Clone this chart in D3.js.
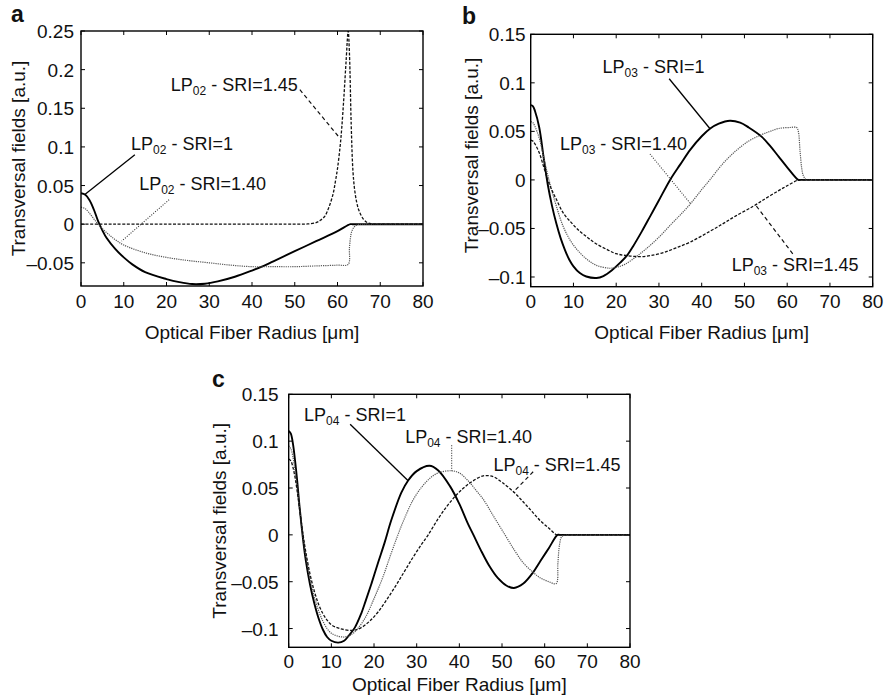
<!DOCTYPE html>
<html><head><meta charset="utf-8">
<script src="https://cdn.jsdelivr.net/npm/d3@7"></script>
<style>
body{margin:0;background:#fff}
text{font-family:"Liberation Sans",Arial,Helvetica,sans-serif;fill:#111}
</style>
</head><body>
<svg id="chart" width="888" height="698"></svg>
<script>
// ---------------- DATA ----------------
const xTicks = [0,10,20,30,40,50,60,70,80];
const xDomain = [0,80];
const yTicksA = [-0.05,0,0.05,0.1,0.15,0.2,0.25];
const yTicksB = [-0.1,-0.05,0,0.05,0.1,0.15];
const yTicksC = [-0.1,-0.05,0,0.05,0.1,0.15];
const yDomainA = [-0.08,0.25];
const yDomainB = [-0.11,0.15];
const yDomainC = [-0.12,0.15];
const panelLetters = ["a","b","c"];
const xTitle = "Optical Fiber Radius [\u03bcm]";
const yTitle = "Transversal fields [a.u.]";

// Panel a : LP02
const lp02_sri1 = [[0,0.040],[1,0.038],[2,0.031],[3,0.019],[4,0.004],[5,-0.008],[6,-0.018],[8,-0.032],[10,-0.043],[12,-0.052],[15,-0.062],[20,-0.071],[23,-0.075],[26,-0.0775],[29,-0.077],[32,-0.074],[36,-0.068],[40,-0.060],[42.3,-0.055],[45,-0.048],[50,-0.035],[55,-0.022],[60,-0.009],[63,0],[63.5,0],[64,0],[66,0],[70,0],[75,0],[80,0]];
const lp02_sri140 = [[0,0.022],[1,0.020],[2,0.014],[3,0.007],[4,0.000],[6,-0.011],[8,-0.020],[10,-0.027],[15,-0.037],[20,-0.043],[25,-0.047],[30,-0.050],[35,-0.053],[40,-0.055],[45,-0.055],[50,-0.055],[55,-0.054],[60,-0.053],[62.5,-0.052],[62.8,-0.030],[63.3,-0.010],[64,-0.003],[65,0],[66,0],[68,0],[72,0],[76,0],[80,0]];
const lp02_sri145 = [[0,0],[5,0],[10,0],[20,0],[30,0],[40,0],[48,0],[51,0],[53,0.0003],[55,0.002],[56,0.005],[57,0.010],[58,0.022],[59,0.040],[59.5,0.055],[60,0.072],[60.6,0.10],[61,0.125],[61.5,0.165],[62,0.21],[62.5,0.25],[62.8,0.22],[63.2,0.13],[63.6,0.07],[64,0.045],[64.5,0.028],[65,0.018],[66,0.007],[67,0.002],[68,0.0003],[69,0],[70,0],[72,0],[76,0],[80,0]];

// Panel b : LP03
const lp03_sri1 = [[0,0.077],[0.5,0.076],[1,0.071],[2,0.054],[3,0.024],[4,-0.005],[5,-0.027],[6,-0.045],[7,-0.060],[8,-0.072],[9,-0.082],[10,-0.089],[11.5,-0.096],[13,-0.0995],[15.4,-0.101],[17,-0.099],[19,-0.093],[21,-0.085],[22.5,-0.078],[24,-0.068],[26,-0.053],[28,-0.037],[30,-0.021],[32.6,0],[35,0.016],[37.3,0.031],[40,0.045],[42,0.053],[44,0.058],[46.6,0.061],[49,0.059],[51,0.054],[54,0.0446],[56,0.035],[58,0.024],[60,0.013],[62.6,0],[63,0],[64,0],[66,0],[70,0],[75,0],[80,0]];
const lp03_sri140 = [[0,0.060],[0.5,0.059],[1,0.055],[2,0.043],[3,0.024],[4,0.005],[5,-0.012],[6,-0.027],[7.6,-0.048],[9.5,-0.064],[11.5,-0.075],[13.5,-0.083],[15.4,-0.088],[18.5,-0.091],[20,-0.090],[22,-0.087],[24.7,-0.079],[27,-0.071],[30,-0.059],[33,-0.045],[35,-0.036],[37.3,-0.025],[40,-0.010],[41.9,0],[45,0.017],[48,0.030],[51,0.040],[54,0.0466],[56,0.050],[58,0.053],[60.7,0.054],[62.2,0.054],[62.6,0.050],[63,0.030],[63.4,0.012],[63.8,0.004],[64.5,0],[65,0],[66,0],[68,0],[72,0],[76,0],[80,0]];
const lp03_sri145 = [[0,0.041],[0.5,0.040],[1,0.037],[2,0.028],[3,0.014],[4,0.000],[5,-0.011],[6,-0.020],[7.6,-0.034],[9.5,-0.044],[11.5,-0.053],[13.5,-0.060],[15.4,-0.066],[18,-0.072],[20,-0.076],[22.5,-0.078],[25.6,-0.079],[28,-0.078],[31,-0.075],[34,-0.070],[37.3,-0.064],[41.9,-0.053],[45,-0.045],[48,-0.037],[52.1,-0.027],[55,-0.019],[58,-0.011],[60,-0.006],[62.6,0],[63,0],[64,0],[66,0],[70,0],[75,0],[80,0]];

// Panel c : LP04
const lp04_sri1 = [[0,0.111],[0.5,0.108],[1,0.097],[1.5,0.079],[2,0.057],[2.5,0.032],[3,0.010],[3.5,-0.010],[4,-0.027],[5,-0.053],[6,-0.073],[7,-0.089],[8,-0.101],[9,-0.109],[10,-0.113],[11.6,-0.115],[13,-0.113],[14,-0.108],[15.5,-0.099],[17,-0.084],[18,-0.071],[19.4,-0.052],[21,-0.029],[22.5,-0.008],[24,0.015],[26.4,0.045],[28,0.058],[30,0.068],[33,0.0737],[35,0.069],[37.8,0.052],[40,0.033],[42,0.012],[43.3,0],[45,-0.016],[47,-0.033],[49,-0.046],[51,-0.054],[52.8,-0.0567],[55,-0.052],[57.3,-0.040],[59,-0.028],[61,-0.014],[63,0],[63.5,0],[64,0],[66,0],[70,0],[75,0],[80,0]];
const lp04_sri140 = [[0,0.095],[0.5,0.092],[1,0.083],[1.5,0.068],[2,0.050],[2.5,0.030],[3,0.011],[3.5,-0.007],[4,-0.022],[5,-0.047],[6,-0.066],[7,-0.081],[8,-0.092],[9,-0.100],[10,-0.105],[11.5,-0.108],[13.1,-0.109],[14.5,-0.107],[16,-0.101],[18,-0.088],[20,-0.068],[22,-0.046],[24,-0.020],[25.6,0],[27,0.016],[29,0.036],[31,0.050],[33,0.060],[35,0.066],[38.1,0.0684],[40,0.066],[42,0.058],[44,0.047],[45.6,0.038],[48,0.020],[50.7,0],[53,-0.017],[55,-0.030],[57.3,-0.040],[59,-0.046],[61,-0.050],[62.7,-0.052],[63.1,-0.030],[63.5,-0.010],[64,-0.002],[65,0],[66,0],[68,0],[72,0],[76,0],[80,0]];
const lp04_sri145 = [[0,0.081],[0.5,0.079],[1,0.072],[1.5,0.061],[2,0.046],[2.5,0.029],[3,0.012],[3.5,-0.004],[4,-0.018],[5,-0.042],[6,-0.060],[7,-0.074],[8,-0.084],[9,-0.091],[10,-0.096],[12,-0.100],[15.1,-0.102],[17,-0.099],[19,-0.092],[21,-0.082],[23,-0.069],[25,-0.055],[27,-0.040],[29,-0.025],[31,-0.011],[32.7,0],[35,0.017],[37,0.030],[39,0.041],[41,0.050],[43,0.057],[45.6,0.063],[48,0.062],[50,0.056],[52.7,0.046],[55,0.035],[57,0.025],[59,0.015],[61,0.007],[62.8,0],[63.2,0],[64,0],[66,0],[70,0],[75,0],[80,0]];

// annotation labels (mode subscript, rest) and leader endpoints in data units
const labelsA = [
  {mode:"02", rest:" - SRI=1.45", at:[21.0,0.173], line:[[51.2,0.174],[60.6,0.111]], style:"dashed"},
  {mode:"02", rest:" - SRI=1",    at:[11.7,0.0955], line:[[12.6,0.090],[0.9,0.0385]], style:"solid"},
  {mode:"02", rest:" - SRI=1.40", at:[13.6,0.0437], line:[[20.6,0.0316],[9.5,-0.022]], style:"dotted"}
];
const labelsB = [
  {mode:"03", rest:" - SRI=1",    at:[16.8,0.1104], line:[[32.4,0.1042],[41.9,0.053]], style:"solid"},
  {mode:"03", rest:" - SRI=1.40", at:[6.85,0.0309], line:[[27.9,0.0267],[37.3,-0.024]], style:"dotted"},
  {mode:"03", rest:" - SRI=1.45", at:[47.0,-0.0943], line:[[61.3,-0.0761],[52.7,-0.0264]], style:"dashed"}
];
const labelsC = [
  {mode:"04", rest:" - SRI=1",    at:[3.6,0.1216], line:[[14.4,0.118],[28.0,0.0578]], style:"solid"},
  {mode:"04", rest:" - SRI=1.40", at:[27.3,0.0979], line:[[38.2,0.0957],[38.2,0.0684]], style:"dotted"},
  {mode:"04", rest:" - SRI=1.45", at:[48.0,0.0684], line:[[57.3,0.0673],[52.6,0.0454]], style:"dashed"}
];

// ---------------- LAYOUT / STYLE ----------------
const styles = {
  solid:  {stroke:"#000", width:1.9, dash:null},
  dotted: {stroke:"#555", width:1.2, dash:"1.2,1"},
  dashed: {stroke:"#111", width:1.3, dash:"3,1.6"}
};
const leaderStyles = {
  solid:  {stroke:"#000", width:1.3, dash:null},
  dotted: {stroke:"#333", width:1.1, dash:"1,1.5"},
  dashed: {stroke:"#111", width:1.2, dash:"4,3"}
};

const panels = [
  {letter:panelLetters[0], box:{l:81,r:423,t:31,b:286}, yDomain:yDomainA, yTicks:yTicksA,
   series:[{d:lp02_sri1,s:"solid"},{d:lp02_sri140,s:"dotted"},{d:lp02_sri145,s:"dashed"}],
   labels:labelsA, letterPos:[11,22], yLabelGap:7, yTitleX:25, yTitleDy:0, xTitleY:339, tickY:308},
  {letter:panelLetters[1], box:{l:530.7,r:872.7,t:34.3,b:286.7}, yDomain:yDomainB, yTicks:yTicksB,
   series:[{d:lp03_sri1,s:"solid"},{d:lp03_sri140,s:"dotted"},{d:lp03_sri145,s:"dashed"}],
   labels:labelsB, letterPos:[462,24], yLabelGap:5, yTitleX:478, yTitleDy:-5, xTitleY:339, tickY:308},
  {letter:panelLetters[2], box:{l:288.7,r:630,t:394.3,b:647.3}, yDomain:yDomainC, yTicks:yTicksC,
   series:[{d:lp04_sri1,s:"solid"},{d:lp04_sri140,s:"dotted"},{d:lp04_sri145,s:"dashed"}],
   labels:labelsC, letterPos:[212,387], yLabelGap:10, yTitleX:226, yTitleDy:0, xTitleY:691, tickY:668}
];

const svg = d3.select("#chart");
svg.append("rect").attr("width",888).attr("height",698).attr("fill","#fff");
const fmt = v => (v<0?"\u2013":"") + String(Math.abs(v));

panels.forEach((p,i)=>{
  const {l,r,t,b} = p.box;
  const x = d3.scaleLinear().domain(xDomain).range([l,r]);
  const y = d3.scaleLinear().domain(p.yDomain).range([b,t]);
  const g = svg.append("g");
  const clipId = "clip"+i;
  g.append("clipPath").attr("id",clipId).append("rect")
    .attr("x",l).attr("y",t).attr("width",r-l).attr("height",b-t);

  const tl = 4;
  xTicks.forEach(v=>{
    g.append("line").attr("x1",x(v)).attr("x2",x(v)).attr("y1",b).attr("y2",b-tl).attr("stroke","#000").attr("stroke-width",1);
    g.append("line").attr("x1",x(v)).attr("x2",x(v)).attr("y1",t).attr("y2",t+tl).attr("stroke","#000").attr("stroke-width",1);
    g.append("text").attr("x",x(v)).attr("y",p.tickY).attr("text-anchor","middle")
      .attr("font-size",19).text(fmt(v));
  });
  p.yTicks.forEach(v=>{
    g.append("line").attr("x1",l).attr("x2",l+tl).attr("y1",y(v)).attr("y2",y(v)).attr("stroke","#000").attr("stroke-width",1);
    g.append("line").attr("x1",r).attr("x2",r-tl).attr("y1",y(v)).attr("y2",y(v)).attr("stroke","#000").attr("stroke-width",1);
    g.append("text").attr("x",l-p.yLabelGap).attr("y",y(v)+7).attr("text-anchor","end")
      .attr("font-size",19).text(fmt(v));
  });

  const line = d3.line().x(d=>x(d[0])).y(d=>y(d[1])).curve(d3.curveCatmullRom.alpha(0.5));
  const cg = g.append("g").attr("clip-path",`url(#${clipId})`);
  p.series.forEach(sr=>{
    const st = styles[sr.s];
    cg.append("path").datum(sr.d).attr("d",line).attr("fill","none")
      .attr("stroke",st.stroke).attr("stroke-width",st.width)
      .attr("stroke-dasharray",st.dash).attr("stroke-linejoin","round");
  });

  g.append("rect").attr("x",l).attr("y",t).attr("width",r-l).attr("height",b-t)
    .attr("fill","none").attr("stroke","#000").attr("stroke-width",1.4);

  p.labels.forEach(a=>{
    const st = leaderStyles[a.style];
    g.append("line").attr("x1",x(a.line[0][0])).attr("y1",y(a.line[0][1]))
      .attr("x2",x(a.line[1][0])).attr("y2",y(a.line[1][1]))
      .attr("stroke",st.stroke).attr("stroke-width",st.width).attr("stroke-dasharray",st.dash);
    const tx = g.append("text").attr("x",x(a.at[0])).attr("y",y(a.at[1])).attr("font-size",18);
    tx.append("tspan").text("LP");
    tx.append("tspan").attr("font-size",12).attr("dy",4).text(a.mode);
    tx.append("tspan").attr("dy",-4).text(a.rest);
  });

  g.append("text").attr("x",(l+r)/2).attr("y",p.xTitleY).attr("text-anchor","middle")
    .attr("font-size",19).text(xTitle);
  g.append("text").attr("transform",`translate(${p.yTitleX},${(t+b)/2+p.yTitleDy}) rotate(-90)`)
    .attr("text-anchor","middle").attr("font-size",19).text(yTitle);
  g.append("text").attr("x",p.letterPos[0]).attr("y",p.letterPos[1])
    .attr("font-size",23).attr("font-weight","bold").text(p.letter);
});
</script>
</body></html>
